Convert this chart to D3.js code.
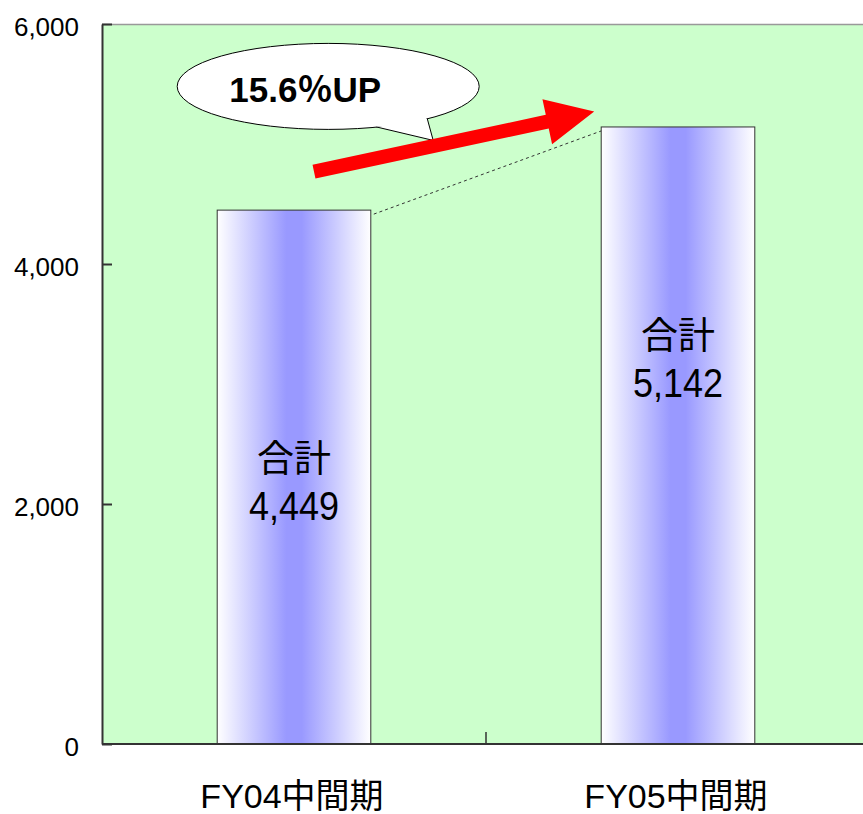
<!DOCTYPE html>
<html>
<head>
<meta charset="utf-8" />
<title>合計</title>
<script src="https://d3js.org/d3.v7.min.js"></script>
<style>
  body { margin: 0; background: #fff; }
  text { font-family: "Liberation Sans", Arial, "Noto Sans CJK JP", sans-serif; fill: #000; }
</style>
</head>
<body>
<svg width="863" height="814"></svg>
<script>
// Data
var categories = ["FY04中間期", "FY05中間期"];
var totals = [4449, 5142];
var yTicks = [0, 2000, 4000, 6000];
var barTitle = "合計";
var growthLabel = "15.6％UP";

var svg = d3.select("svg");

// plot area (right edge runs past the window)
var margin = { top: 24, left: 102, bottom: 70 };
var width = 768,
    height = 814 - margin.top - margin.bottom;

var x = d3.scaleBand().domain(categories).range([0, width]).paddingInner(0.6).paddingOuter(0.3);
var y = d3.scaleLinear().domain([0, 6000]).range([height, 0]);

var defs = svg.append("defs");
var grad = defs.append("linearGradient").attr("id", "barGrad")
    .attr("x1", "0%").attr("x2", "100%").attr("y1", "0%").attr("y2", "0%");
grad.append("stop").attr("offset", "0%").attr("stop-color", "#ffffff");
grad.append("stop").attr("offset", "45%").attr("stop-color", "#9999ff");
grad.append("stop").attr("offset", "55%").attr("stop-color", "#9999ff");
grad.append("stop").attr("offset", "100%").attr("stop-color", "#ffffff");

var g = svg.append("g").attr("transform", "translate(" + margin.left + "," + margin.top + ")");

// background
g.append("rect")
    .attr("x", 0).attr("y", 0)
    .attr("width", width).attr("height", height)
    .attr("fill", "#ccffcc");
g.append("line")
    .attr("x1", 0).attr("x2", width).attr("y1", 0.5).attr("y2", 0.5)
    .attr("stroke", "#999").attr("stroke-width", 1.5);

// bars
g.selectAll(".bar")
    .data(totals)
    .enter()
    .append("rect")
    .attr("class", "bar")
    .attr("x", function (d, i) { return x(categories[i]); })
    .attr("y", function (d) { return y(d); })
    .attr("width", x.bandwidth())
    .attr("height", function (d) { return height - y(d); })
    .attr("fill", "url(#barGrad)")
    .attr("stroke", "#333")
    .attr("stroke-width", 1);

// dashed connector
g.append("line")
    .attr("x1", x(categories[0]) + x.bandwidth() + 3).attr("y1", y(totals[0]) + 4)
    .attr("x2", x(categories[1])).attr("y2", y(totals[1]) + 4)
    .attr("stroke", "#333").attr("stroke-width", 1)
    .attr("stroke-dasharray", "3,3");

// y axis
var yAxis = g.append("g")
    .call(d3.axisLeft(y).tickValues(yTicks).tickSizeInner(-10).tickSizeOuter(0).tickPadding(23)
        .tickFormat(d3.format(",")));
yAxis.select(".domain").attr("stroke", "#333").attr("stroke-width", 2);
yAxis.selectAll(".tick line").attr("stroke", "#333").attr("stroke-width", 2);
yAxis.selectAll(".tick text")
    .style("font-size", "26px")
    .attr("dy", "0.45em");

// x axis
var xAxis = g.append("g").attr("transform", "translate(0," + height + ")");
xAxis.append("line")
    .attr("x1", 0).attr("x2", width)
    .attr("stroke", "#333").attr("stroke-width", 2);
xAxis.append("line")
    .attr("x1", width / 2).attr("x2", width / 2)
    .attr("y1", 0).attr("y2", -12)
    .attr("stroke", "#333").attr("stroke-width", 1.5);
xAxis.selectAll(".cat")
    .data(categories)
    .enter()
    .append("text")
    .attr("class", "cat")
    .attr("text-anchor", "middle")
    .attr("x", function (d) { return x(d) + x.bandwidth() / 2 - 2; })
    .attr("y", 64)
    .style("font-size", "34px")
    .text(function (d) { return d; });

// labels inside bars (baseline of the number, in axis units)
var labelAt = [1870, 2890];
var lbl = g.selectAll(".lbl")
    .data(totals)
    .enter()
    .append("g")
    .attr("class", "lbl")
    .attr("transform", function (d, i) {
        return "translate(" + (x(categories[i]) + x.bandwidth() / 2) + "," + y(labelAt[i]) + ")";
    });
lbl.append("text")
    .attr("text-anchor", "middle")
    .attr("y", -48)
    .style("font-size", "37px")
    .text(barTitle);
lbl.append("text")
    .attr("text-anchor", "middle")
    .attr("transform", "scale(0.9,1)")
    .style("font-size", "40px")
    .text(function (d) { return d3.format(",")(d); });

// speech bubble
var bx = x(categories[0]) + 111, by = y(5480);
var bubble = g.append("g");
bubble.append("ellipse")
    .attr("cx", bx).attr("cy", by)
    .attr("rx", 151).attr("ry", 43)
    .attr("fill", "#fff").attr("stroke", "#000").attr("stroke-width", 1);
bubble.append("path")
    .attr("d", "M" + (bx + 48) + "," + (by + 40.5) + " L" + (bx + 105) + "," + (by + 54) +
        " L" + (bx + 99) + "," + (by + 32))
    .attr("fill", "#fff").attr("stroke", "#000").attr("stroke-width", 1);
bubble.append("rect")
    .attr("x", bx + 48).attr("y", by + 30).attr("width", 50).attr("height", 10)
    .attr("fill", "#fff");
bubble.append("text")
    .attr("x", bx - 23).attr("y", by + 3)
    .attr("text-anchor", "middle")
    .attr("dy", "0.35em")
    .style("font-size", "35px")
    .style("font-weight", "bold")
    .text(growthLabel);

// red arrow
var ax0 = x(categories[0]) + x.bandwidth() / 2 + 20, ay0 = y(4770);
var ax1 = x(categories[1]) - 7, ay1 = y(5270);
var ang = Math.atan2(ay1 - ay0, ax1 - ax0);
var len = Math.hypot(ax1 - ax0, ay1 - ay0);
var arrow = g.append("g")
    .attr("transform", "translate(" + ax0 + "," + ay0 + ") rotate(" + (ang * 180 / Math.PI) + ")");
arrow.append("path")
    .attr("d", "M0,-7 L" + (len - 48) + ",-7 L" + (len - 48) + ",-23 L" + len + ",0 L" +
        (len - 48) + ",23 L" + (len - 48) + ",7 L0,7 Z")
    .attr("fill", "#ff0000");
</script>
</body>
</html>
